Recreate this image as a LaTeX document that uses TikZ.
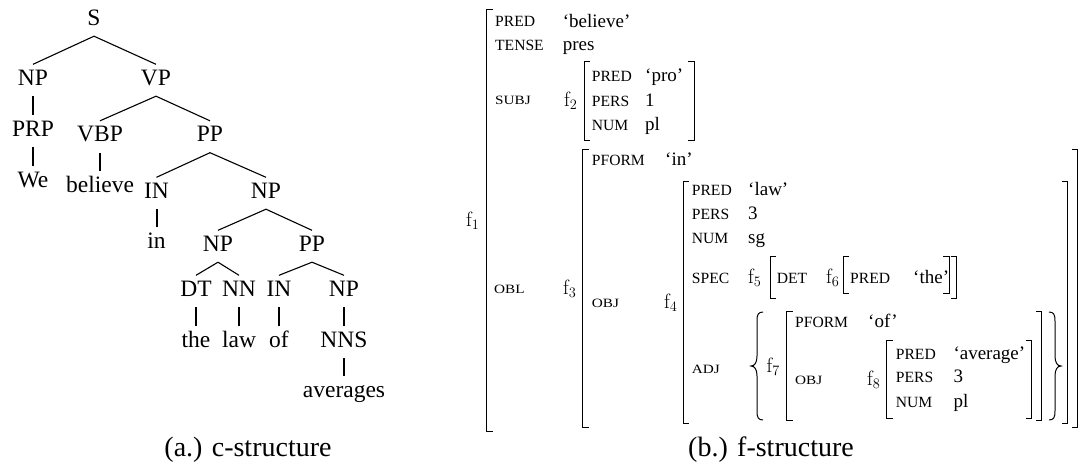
\documentclass[tikz,border=0pt]{standalone}
\usepackage[no-math]{fontspec}
\usepackage{graphicx}
\setmainfont{Liberation Serif}

\tikzset{
  cat/.style={anchor=base, inner xsep=0pt, inner ysep=5pt, text height=15.5pt, text depth=6pt, font=\fontsize{23.5}{28}\selectfont},
  branch/.style={line width=1.1pt},
  unary/.style={line width=2pt},
  attr/.style={anchor=base west, inner sep=0pt, font=\fontsize{15.6}{18}\selectfont},
  gf/.style={anchor=base west, inner sep=0pt, font=\fontsize{12.7}{15}\selectfont},
  val/.style={anchor=base west, inner sep=0pt, font=\fontsize{19}{23}\selectfont},
  flab/.style={anchor=base west, inner sep=0pt, font=\fontsize{20}{24}\selectfont},
  brk/.style={line width=1pt},
  capt/.style={anchor=base, inner sep=0pt, font=\fontsize{28}{33}\selectfont}
}

% square brackets of the f-structure: x, top, bottom
\newcommand{\fsleft}[3]{\draw[brk] (#1+6,#2) -- (#1,#2) -- (#1,#3) -- (#1+6,#3);}
\newcommand{\fsright}[3]{\draw[brk] (#1-6,#2) -- (#1,#2) -- (#1,#3) -- (#1-6,#3);}
% wide caps for the grammatical functions
\newcommand{\gfn}[1]{\scalebox{1.2}[1]{#1}}

\begin{document}
\begin{tikzpicture}[x=1pt,y=-1pt]
\useasboundingbox (0,0) rectangle (1079,464);

% c-structure
\node[cat] (S) at (94,25) {S};
\node[cat] (NPa) at (33,85) {NP};
\node[cat] (VP) at (156,85) {VP};
\node[cat] (PRP) at (33,136) {PRP};
\node[cat] (VBP) at (100,141.5) {VBP};
\node[cat] (PPa) at (210,141.5) {PP};
\node[cat] (We) at (33,187) {We};
\node[cat] (believe) at (100,192) {believe};
\node[cat] (INa) at (156.5,198) {IN};
\node[cat] (NPb) at (266,198) {NP};
\node[cat] (in) at (156.5,248) {in};
\node[cat] (NPc) at (218,251) {NP};
\node[cat] (PPb) at (312,251) {PP};
\node[cat] (DT) at (196,296) {DT};
\node[cat] (NN) at (239,296) {NN};
\node[cat] (INb) at (279,296) {IN};
\node[cat] (NPd) at (344,296) {NP};
\node[cat] (the) at (196,347) {the};
\node[cat] (law) at (239,347) {law};
\node[cat] (of) at (279,347) {of};
\node[cat] (NNS) at (344,347) {NNS};
\node[cat] (averages) at (344,397) {averages};

\draw[branch] (S.south) -- (NPa.north);
\draw[branch] (S.south) -- (VP.north);
\draw[branch] (VP.south) -- (VBP.north);
\draw[branch] (VP.south) -- (PPa.north);
\draw[branch] (PPa.south) -- (INa.north);
\draw[branch] (PPa.south) -- (NPb.north);
\draw[branch] (NPb.south) -- (NPc.north);
\draw[branch] (NPb.south) -- (PPb.north);
\draw[branch] (NPc.south) -- (DT.north);
\draw[branch] (NPc.south) -- (NN.north);
\draw[branch] (PPb.south) -- (INb.north);
\draw[branch] (PPb.south) -- (NPd.north);

\draw[unary] (NPa.south) -- (PRP.north);
\draw[unary] (PRP.south) -- (We.north);
\draw[unary] (VBP.south) -- (believe.north);
\draw[unary] (INa.south) -- (in.north);
\draw[unary] (DT.south) -- (the.north);
\draw[unary] (NN.south) -- (law.north);
\draw[unary] (INb.south) -- (of.north);
\draw[unary] (NPd.south) -- (NNS.north);
\draw[unary] (NNS.south) -- (averages.north);

\node[capt] (capa) at (248,456.7) {(a.) c-structure};

% f-structure
\node[flab] (f1) at (466,226) {$\mathrm{f}_1$};
\fsleft{486.7}{9.3}{431.7}
\node[attr] (pred1) at (495,26.7) {PRED};
\node[val] (vpred1) at (562.7,27) {`believe'};
\node[attr] (tense1) at (495,50) {TENSE};
\node[val] (vtense1) at (562.7,50) {pres};
\node[gf] (subj1) at (495,104) {\gfn{SUBJ}};
\node[gf] (obl1) at (494,293) {\gfn{OBL}};

% f2
\node[flab] (f2) at (564,106) {$\mathrm{f}_2$};
\fsleft{584}{61.7}{140}
\fsright{694.3}{61.7}{140}
\node[attr] (pred2) at (591.7,81.7) {PRED};
\node[val] (vpred2) at (645,81.7) {`pro'};
\node[attr] (pers2) at (591.7,106) {PERS};
\node[val] (vpers2) at (645,106) {1};
\node[attr] (num2) at (591.7,130) {NUM};
\node[val] (vnum2) at (645,130) {pl};

% f3
\node[flab] (f3) at (563,294) {$\mathrm{f}_3$};
\fsleft{582.7}{149}{427}
\fsright{1077.8}{149}{427}
\node[attr] (pform3) at (591.7,165) {PFORM};
\node[val] (vpform3) at (665,165) {`in'};
\node[gf] (obj3) at (591.7,307) {\gfn{OBJ}};

% f4
\node[flab] (f4) at (664,308) {$\mathrm{f}_4$};
\fsleft{683}{181}{423.5}
\fsright{1067.8}{181}{423.5}
\node[attr] (pred4) at (691.7,195) {PRED};
\node[val] (vpred4) at (748,195) {`law'};
\node[attr] (pers4) at (691.7,219) {PERS};
\node[val] (vpers4) at (748,219) {3};
\node[attr] (num4) at (691.7,243) {NUM};
\node[val] (vnum4) at (748,243) {sg};
\node[attr] (spec4) at (691.7,283.3) {SPEC};
\node[gf] (adj4) at (691.7,373) {\gfn{ADJ}};

% f5, f6
\node[flab] (f5) at (748,283) {$\mathrm{f}_5$};
\fsleft{770}{256}{298}
\fsright{956.7}{256}{298}
\node[attr] (det5) at (776.7,283.3) {DET};
\node[flab] (f6) at (826,283) {$\mathrm{f}_6$};
\fsleft{843.3}{256}{293}
\fsright{949}{256}{293}
\node[attr] (pred6) at (850,283.3) {PRED};
\node[val] (vpred6) at (913,283.3) {`the'};

% set braces
\draw[brk] (763,312) .. controls (758,312) and (757,315) .. (757,321) -- (757,356) .. controls (757,362) and (755,366) .. (751,366) .. controls (755,366) and (757,370) .. (757,376) -- (757,411) .. controls (757,417) and (758,420) .. (763,420);
\draw[brk] (1049,312) .. controls (1054,312) and (1055,315) .. (1055,321) -- (1055,356) .. controls (1055,362) and (1057,366) .. (1061,366) .. controls (1057,366) and (1055,370) .. (1055,376) -- (1055,411) .. controls (1055,417) and (1054,420) .. (1049,420);

% f7
\node[flab] (f7) at (766.5,372) {$\mathrm{f}_7$};
\fsleft{786.7}{311.7}{420.7}
\fsright{1041.7}{311.7}{420.7}
\node[attr] (pform7) at (795,327.3) {PFORM};
\node[val] (vpform7) at (868,327.3) {`of'};
\node[gf] (obj7) at (795,384.3) {\gfn{OBJ}};

% f8
\node[flab] (f8) at (867,385) {$\mathrm{f}_8$};
\fsleft{886.7}{340}{418}
\fsright{1031.7}{340}{418}
\node[attr] (pred8) at (895.7,359.3) {PRED};
\node[val] (vpred8) at (953.3,359.3) {`average'};
\node[attr] (pers8) at (895.7,382.7) {PERS};
\node[val] (vpers8) at (953.3,382.7) {3};
\node[attr] (num8) at (895.7,407.3) {NUM};
\node[val] (vnum8) at (953.3,407.3) {pl};

\node[capt] (capb) at (771,456.7) {(b.) f-structure};
\end{tikzpicture}
\end{document}
